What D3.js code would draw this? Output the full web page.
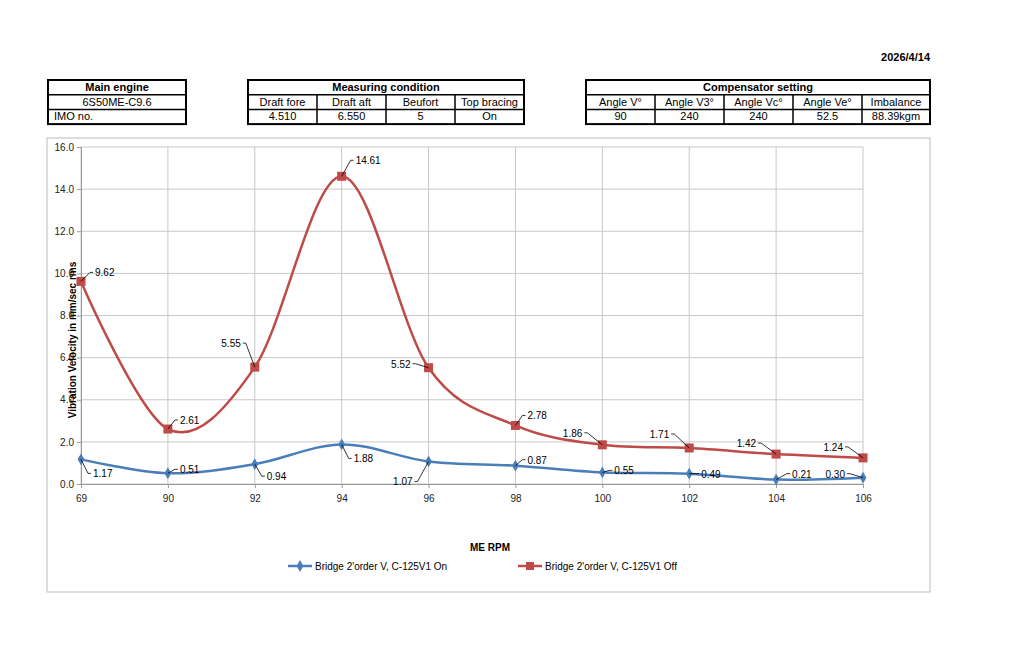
<!DOCTYPE html><html><head><meta charset="utf-8"><script src="https://cdn.jsdelivr.net/npm/d3@7"></script>
<style>body{margin:0;background:#fff}text{font-family:"Liberation Sans",Arial,sans-serif}</style></head><body><svg id="c" width="1024" height="646"></svg>
<script>
const categories=["69","90","92","94","96","98","100","102","104","106"];
const onValues=[1.17,0.51,0.94,1.88,1.07,0.87,0.55,0.49,0.21,0.30];
const offValues=[9.62,2.61,5.55,14.61,5.52,2.78,1.86,1.71,1.42,1.24];
const yTicks=[0,2,4,6,8,10,12,14,16];
const seriesNames=["Bridge 2'order V, C-125V1 On","Bridge 2'order V, C-125V1 Off"];
// label offsets (style)
const onOff=[[12,18],[12,-8],[12,16],[12,18],[-16,24],[12,-10],[12,-6],[12,-4],[16,-10],[-18,-8]];
const offOff=[[14,-13],[12,-13],[-14,-28],[14,-20],[-18,-8],[12,-14],[-20,-16],[-20,-18],[-20,-15],[-20,-15]];

const svg=d3.select("#c");
svg.append("text").attr("x",930).attr("y",61).attr("text-anchor","end").attr("font-size",11).attr("font-weight","bold").text("2026/4/14");
function table(x,title,cols,widths,row2,row3,totalW){
  const g=svg.append("g");const rh=14.7,y0=80;
  g.append("rect").attr("x",x).attr("y",y0).attr("width",totalW).attr("height",rh*3).attr("fill","none").attr("stroke","#000").attr("stroke-width",2);
  g.append("line").attr("x1",x).attr("x2",x+totalW).attr("y1",y0+rh).attr("y2",y0+rh).attr("stroke","#000").attr("stroke-width",1.5);
  g.append("line").attr("x1",x).attr("x2",x+totalW).attr("y1",y0+2*rh).attr("y2",y0+2*rh).attr("stroke","#000").attr("stroke-width",1.5);
  g.append("text").attr("x",x+totalW/2).attr("y",y0+11).attr("text-anchor","middle").attr("font-size",11).attr("font-weight","bold").text(title);
  let cx=x;
  widths.forEach((w,i)=>{
    if(i>0)g.append("line").attr("x1",cx).attr("x2",cx).attr("y1",y0+rh).attr("y2",y0+3*rh).attr("stroke","#000").attr("stroke-width",1.5);
    [row2[i],row3[i]].forEach((t,j)=>{const al=(t==="IMO no.");g.append("text").attr("x",al?cx+6:cx+w/2).attr("y",y0+rh*(j+1)+11).attr("text-anchor",al?"start":"middle").attr("font-size",11).text(t);});
    cx+=w;});
}
table(48,"Main engine",[0],[138],["6S50ME-C9.6"],["IMO no."],138);
table(248,"Measuring condition",[],[69,69,69,69],["Draft fore","Draft aft","Beufort","Top bracing"],["4.510","6.550","5","On"],276);
table(586,"Compensator setting",[],[69,69,69,69,68],["Angle V°","Angle V3°","Angle Vc°","Angle Ve°","Imbalance"],["90","240","240","52.5","88.39kgm"],344);

svg.append("rect").attr("x",47).attr("y",138).attr("width",883).attr("height",454).attr("fill","none").attr("stroke","#bbb");
const x=d3.scalePoint().domain(categories).range([81,863]);
const y=d3.scaleLinear().domain([0,16]).range([484,147]);
const g=svg.append("g");
yTicks.forEach(t=>g.append("line").attr("x1",81).attr("x2",863).attr("y1",y(t)).attr("y2",y(t)).attr("stroke","#c8c8c8"));
categories.forEach(c=>g.append("line").attr("x1",x(c)).attr("x2",x(c)).attr("y1",147).attr("y2",484).attr("stroke","#c8c8c8"));
g.append("g").attr("transform","translate(81,0)").call(d3.axisLeft(y).tickValues(yTicks).tickFormat(d3.format(".1f")).tickSize(4)).call(a=>{a.select(".domain").attr("stroke","#999");a.selectAll("line").attr("stroke","#999");a.selectAll("text").attr("font-size",10).attr("fill","#222").attr("font-family","Liberation Sans")});
g.append("g").attr("transform","translate(0,484)").call(d3.axisBottom(x).tickSize(4)).call(a=>{a.select(".domain").attr("stroke","#999");a.selectAll("line").attr("stroke","#999");a.selectAll("text").attr("font-size",10).attr("fill","#222").attr("dy","1.1em").attr("font-family","Liberation Sans")});
svg.append("text").attr("transform","translate(76,340) rotate(-90)").attr("text-anchor","middle").attr("font-size",10).attr("font-weight","bold").text("Vibration Velocity in mm/sec rms");
svg.append("text").attr("x",490).attr("y",551).attr("text-anchor","middle").attr("font-size",10).attr("font-weight","bold").text("ME RPM");
const line=d3.line().x((d,i)=>x(categories[i])).y(d=>y(d)).curve(d3.curveCatmullRom.alpha(0));
const cols=["#4a7ebb","#be4b48"];
[onValues,offValues].forEach((vals,s)=>{
  svg.append("path").attr("d",line(vals)).attr("fill","none").attr("stroke",cols[s]).attr("stroke-width",2.5);
  vals.forEach((v,i)=>{const px=x(categories[i]),py=y(v);
    if(s===0)svg.append("path").attr("d",d3.symbol(d3.symbolDiamond,40)()).attr("transform",`translate(${px},${py})`).attr("fill",cols[0]);
    else svg.append("rect").attr("x",px-4.5).attr("y",py-4.5).attr("width",9).attr("height",9).attr("fill",cols[1]);
    const o=(s?offOff:onOff)[i];const tx=px+o[0],ty=py+o[1];
    const right=o[0]>0;
    svg.append("path").attr("d",`M${px},${py}L${right?tx-5:tx+5},${ty+(o[1]>0?-4:4)}L${right?tx-2:tx+2},${ty+(o[1]>0?-4:4)}`).attr("fill","none").attr("stroke","#000").attr("stroke-width",0.8);
    svg.append("text").attr("x",tx).attr("y",ty+(o[1]>0?0:8)).attr("text-anchor",right?"start":"end").attr("font-size",10).text(v.toFixed(2));
  });
});
const lg=svg.append("g");
[[288,seriesNames[0]],[518,seriesNames[1]]].forEach(([lx,t],s)=>{
  lg.append("line").attr("x1",lx).attr("x2",lx+24).attr("y1",566).attr("y2",566).attr("stroke",cols[s]).attr("stroke-width",2.5);
  if(s===0)lg.append("path").attr("d",d3.symbol(d3.symbolDiamond,40)()).attr("transform",`translate(${lx+12},566)`).attr("fill",cols[0]);
  else lg.append("rect").attr("x",lx+8).attr("y",562).attr("width",8).attr("height",8).attr("fill",cols[1]);
  lg.append("text").attr("x",lx+27).attr("y",569.5).attr("font-size",10).text(t);
});
</script></body></html>
